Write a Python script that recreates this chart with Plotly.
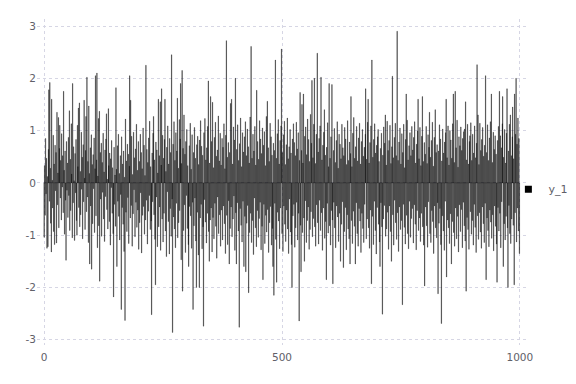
import plotly.graph_objects as go

y_1 = [
    -1.04, 0.33, -0.62, 0.85, -0.21, 0.47, -1.25, 0.12, -1.22, 0.64, 1.78, -0.35, 1.92, 0.28, -0.77, -1.32, 1.6, 0.05, -0.48, 0.91, -0.93, 0.36, -1.18, 0.72, -0.15,
    0.58, -1.15, 1.35, -0.42, 0.19, 1.25, -0.86, 0.66, 1.1, -0.29, 0.43, -0.71, 0.94, -0.08, 0.52, -0.57, 1.75, 0.24, -0.98, 0.61, -0.33, -1.48, 0.79, -0.14, 0.38,
    -0.66, 0.87, -0.24, 1.38, -0.91, 0.45, -0.53, 1.13, 0.17, -1.05, 1.9, -0.38, 0.69, 0.04, -1.1, 0.56, -0.19, 0.83, -0.72, -1.0, 1.1, 0.31, 1.43, -0.47, 1.53,
    -0.84, 0.22, -0.61, 0.97, -0.12, 0.49, -1.07, 0.73, -0.36, 1.58, 0.09, -0.89, 0.62, 1.27, -0.55, 2.02, -0.27, 0.41, -1.14, 1.47, 0.18, -1.55, 0.67, -0.44, 0.92,
    -1.65, 0.35, -0.78, 0.54, -0.11, 0.86, -0.95, 0.27, 2.05, -0.63, 0.44, 2.1, -1.24, 0.13, 1.23, -0.82, 1.37, -1.88, 0.58, -0.31, 0.76, -1.02, 0.39, -0.18, 0.95,
    -0.69, 0.21, -1.12, 0.63, -0.26, 0.84, 1.32, -0.51, 0.07, -0.88, 1.42, 0.33, -0.74, 0.57, -1.19, 0.46, -0.09, 0.81, -0.58, 0.29, -0.97, -2.18, 0.68, -0.41, 0.15,
    -0.83, 1.82, 0.26, -1.6, 0.71, -0.35, 0.93, -0.64, 0.18, -1.09, 0.52, -0.22, -2.42, 0.88, -0.47, 0.36, -0.79, 0.61, -1.31, 0.11, -2.63, 1.22, -0.56, 0.42, -0.93,
    0.74, -0.28, 0.55, -1.16, 0.32, 2.05, -0.67, 1.58, -0.43, 0.89, -1.21, 0.16, -0.59, 0.97, -0.13, 0.48, -1.03, 0.65, -0.37, 1.12, -0.85, 0.24, -0.52, 0.79, -1.27,
    0.41, -0.76, 0.93, -0.19, 0.58, -1.34, 0.27, -0.62, 1.05, -0.45, 0.72, -0.98, 0.14, -0.71, 2.25, -0.33, 0.64, -1.17, 0.39, -0.54, 0.86, -0.24, 1.18, -0.89, 0.31,
    -0.73, -2.52, 0.57, -0.36, 0.95, 1.27, -0.61, 0.44, -1.08, -1.95, 0.78, -0.27, 0.63, -1.22, 0.19, 1.6, -0.84, 0.52, -0.46, 1.55, -1.29, 0.34, 1.8, -0.69, 0.91,
    -1.13, 0.47, -0.58, 0.83, 1.6, -0.92, 0.22, -1.41, 0.68, -0.17, 1.09, -0.74, 0.36, -1.36, 0.85, -0.49, 0.58, -1.02, 2.45, -0.31, -2.86, 0.74, -0.65, 1.17, -0.88,
    0.43, -1.24, 0.96, -0.39, 0.61, 1.62, -1.05, 0.28, -0.76, 1.21, -0.53, 0.84, 1.9, -1.47, 0.37, 2.15, -2.07, 0.66, -0.91, 1.3, -0.42, 0.55, -1.33, 0.79, -0.24,
    1.02, -0.87, 0.33, -1.18, -1.6, 0.71, -0.45, 1.14, -0.63, 0.26, -1.25, 0.92, -0.37, -2.42, 0.58, -0.82, 1.06, -0.29, 0.47, -1.11, -2.0, 0.73, -0.56, 0.89, -1.38,
    0.35, -2.0, 0.82, -0.67, 1.19, -0.41, 0.7, -1.26, 0.53, -0.84, -2.74, 0.96, -0.32, 1.23, -0.75, 0.44, -1.15, 0.67, -0.58, 1.08, 1.95, -0.93, -1.5, 0.38, -0.71,
    1.65, -0.48, 0.79, -1.32, 1.54, -0.66, 0.29, -1.07, 0.87, -0.39, 1.16, -0.83, 0.51, -1.44, 0.63, -0.27, 1.28, -0.97, 0.42, -0.61, 0.95, -1.21, 0.34, -0.52, 0.85,
    -1.09, 0.68, -0.44, 1.13, -0.78, 0.27, -1.35, 0.91, 2.72, -0.62, 0.49, -1.18, 0.77, -0.34, -1.55, 0.58, -0.87, 1.52, -0.46, 1.6, -1.03, 0.36, -0.69, 1.07, -0.25,
    0.82, -1.29, 2.0, -0.57, -1.55, 0.64, -0.38, 1.11, -0.92, 0.43, -2.76, 0.75, -0.49, 1.24, -0.81, 0.31, -1.13, 0.96, -0.35, 0.59, -1.6, 0.88, -0.64, 1.17, -1.7,
    0.52, -0.77, 1.03, -0.43, 0.69, -2.1, 0.38, -0.95, 1.26, -0.58, 2.61, -1.14, 0.47, -0.72, 0.93, -1.37, 0.61, -0.29, 1.08, -0.86, 0.34, -1.22, 1.77, -0.53, 0.79,
    -1.04, 0.45, -0.68, 1.19, -0.37, 0.84, -1.28, 0.56, -0.83, 1.05, -1.85, 0.72, -0.41, 0.98, -1.16, 0.33, -0.62, 1.27, -0.94, 1.56, -0.51, 0.67, -1.33, 0.41, -0.76,
    1.14, -0.45, 0.88, -1.19, 0.53, -0.87, -1.6, 0.76, -2.15, 0.62, -0.39, 2.35, -1.08, 0.47, -1.9, 0.94, -0.56, 1.21, -0.73, 0.36, -1.26, 0.81, -0.48, 1.09, 2.56,
    -0.97, 0.58, -1.31, 0.92, -0.44, 1.18, -0.79, 0.35, -1.12, 0.73, -0.52, 1.24, -0.88, 0.46, -1.35, 0.69, -0.31, 1.02, -0.94, 0.57, -1.18, -2.0, 0.84, -0.63, 1.13,
    -0.41, 0.77, -1.23, 0.52, -0.86, 1.16, -0.37, 0.65, -1.09, 0.96, -0.58, -2.64, 0.43, 1.73, -0.81, -1.7, 0.62, 1.5, -0.95, 0.38, 1.7, -0.67, -1.5, 0.89, -0.34,
    1.07, -1.14, 0.54, -0.72, 1.22, -0.46, 0.83, -1.27, 0.41, -0.89, 1.31, -0.55, 0.76, 1.96, -1.03, 0.48, -0.68, 1.12, 2.0, -0.84, 0.37, -1.21, 0.93, -0.42, 2.48,
    -0.76, 0.59, -1.17, 0.85, -0.33, 1.09, -0.91, 2.02, -0.57, 0.44, -1.29, 0.72, -0.48, 0.97, 1.4, -1.06, 0.53, -0.74, -1.85, 0.68, -0.39, 1.15, -0.96, 0.31, 1.9,
    -0.82, 0.47, -1.19, 0.88, -0.53, 1.88, -0.71, -1.93, 0.62, -0.37, 1.04, -0.86, 0.39, -1.24, 0.81, -0.44, 1.17, -0.65, 0.28, -1.12, 0.93, -0.58, 0.74, -1.5, 0.46,
    -0.79, 1.12, -0.36, 0.67, -1.62, 0.52, -0.93, 1.06, -0.47, 0.84, -1.28, 0.35, -0.61, 1.19, -0.88, 0.43, -1.07, 0.78, -1.55, 0.56, 1.65, -0.72, 0.31, -1.16, 0.95,
    -0.54, 1.25, -0.83, 0.47, -1.55, 0.69, -0.38, 1.08, -0.97, 0.42, -1.21, 0.86, -0.49, 1.14, -0.73, 0.36, -1.33, 0.79, -0.58, 1.02, -0.87, 0.51, -1.14, 0.68, -0.41,
    0.93, 1.8, -1.07, 0.45, -0.69, 1.16, 1.6, -0.86, 0.38, -1.25, 0.77, -0.52, 1.09, -1.93, 2.35, -0.64, 0.49, -1.18, 0.83, -0.35, 1.13, -0.91, 0.57, -1.36, 0.72,
    -0.47, 0.88, 1.02, -0.79, 0.41, -1.13, -1.6, 0.66, -0.38, 0.95, -0.84, -2.51, 0.53, -0.69, 1.07, -0.43, 0.76, 1.3, -1.02, 0.34, -0.88, 1.18, -0.56, 0.62, -1.27,
    0.81, -0.44, 1.1, -0.93, 0.37, -1.5, 0.69, 2.04, -0.61, 0.48, -1.19, 0.87, -0.33, 1.14, -0.76, 0.52, -1.08, 2.9, -0.57, 0.43, -1.31, 0.78, -0.46, 1.05, -0.89,
    0.36, -0.72, 0.94, -2.33, 0.58, -0.41, 1.12, -0.85, 0.29, -1.17, 0.83, 1.7, -0.62, 1.2, -0.97, 0.44, -1.26, 0.71, -0.35, 0.96, -1.04, 0.52, -0.68, 1.08, -0.49,
    0.63, -1.15, 0.87, -0.42, 1.17, -0.79, 0.38, -1.28, 0.74, -0.53, 0.99, 1.6, -0.91, 0.46, -0.67, 1.06, -1.12, 0.33, -0.58, 0.89, 1.65, -0.84, 0.41, -1.19, 0.77,
    -1.97, 0.55, -0.46, 1.08, -0.82, 0.37, -1.23, 0.92, -0.36, 0.68, 1.35, -0.97, 0.49, -1.14, 0.81, -0.53, 1.16, -0.74, 0.32, -1.35, 0.87, -0.44, 1.4, -0.86, 0.58,
    -1.05, 0.73, -0.38, -2.12, 0.61, -0.77, 1.11, -0.49, 0.84, -1.18, -2.69, 0.42, -0.63, 1.03, -0.92, 0.57, -1.29, 0.78, -0.35, 0.96, 1.6, -1.8, 0.48, -0.71, 1.09,
    -0.86, 0.34, -1.16, 1.0, -0.59, 0.82, -1.55, 0.47, -0.74, 1.13, 1.7, -0.95, 0.39, -1.21, 1.75, -0.48, 0.67, -1.07, 1.2, -0.64, 0.3, -1.32, 0.88, -0.42, 0.71,
    -0.93, 1.07, -0.51, 0.62, -1.24, 0.85, -0.37, 0.98, -0.82, 1.03, -1.11, 1.55, -2.07, 0.44, -0.66, 1.12, -0.89, 0.36, -1.27, 0.79, 0.9, -0.55, 1.15, -0.98, 0.43,
    -0.72, 0.93, -1.19, 0.57, -0.41, 1.09, -0.85, 0.48, -1.33, 0.76, 2.26, -0.63, 1.3, -1.08, 0.35, -0.57, 1.14, -0.94, 0.62, -1.25, 0.83, -0.46, 1.06, -0.78, 0.51,
    -1.14, 0.72, -0.39, 2.05, -1.85, 0.58, -0.67, 1.11, -0.91, 0.43, -1.22, 0.86, -0.52, 1.17, -0.75, 1.7, -1.06, 0.39, -0.61, 0.97, -1.3, 0.64, -0.44, 0.9, -0.83,
    0.55, -1.17, -1.9, 0.81, -0.47, 1.08, -0.92, 1.75, -0.58, 0.9, -1.24, 0.67, -0.36, 1.13, 1.65, -1.6, 0.49, -0.78, 1.02, -1.09, 0.38, -0.64, 0.95, 1.8, -0.86,
    -2.0, 0.61, -0.43, 1.12, -0.97, 1.3, -1.16, 0.52, -0.69, 0.88, 1.45, -0.81, 0.46, -1.95, 1.7, -0.57, 0.93, 2.0, -1.13, 0.74, -0.48, 1.24, -0.92, 0.85, -1.35,
]
x_index = list(range(len(y_1)))

x_ticks = [0, 500, 1000]
y_ticks = [-3, -2, -1, 0, 1, 2, 3]

text_color = "#606068"
grid_color = "#d6d6e4"

fig = go.Figure()
fig.add_trace(go.Bar(
    x=x_index, y=y_1, name="y_1",
    # alpha just below 1 keeps plotly from widening sub-pixel bars to whole pixels
    marker=dict(color="rgba(0,0,0,0.99)", line=dict(width=0.3, color="rgba(20,20,20,0.99)")),
    showlegend=False, legendgroup="y_1",
))
# legend entry for the bar series (a small black square, as in the reference)
fig.add_trace(go.Scatter(
    x=[None], y=[None], name="y_1", mode="markers", legendgroup="y_1",
    marker=dict(symbol="square", size=7, color="#000000"),
    showlegend=True,
))

fig.update_layout(
    width=576, height=384,
    margin=dict(l=37, r=49, t=19, b=39, autoexpand=False),
    paper_bgcolor="white", plot_bgcolor="white",
    font=dict(family="DejaVu Sans", size=10.5, color=text_color),
    bargap=0.02,
    showlegend=True,
    legend=dict(x=0.962, xanchor="left", y=0.478, yanchor="middle",
                font=dict(size=11, color=text_color),
                bgcolor="rgba(0,0,0,0)", itemwidth=30),
    xaxis=dict(range=[-15, 1015], tickvals=x_ticks, ticktext=[str(v) for v in x_ticks],
               showgrid=True, gridcolor=grid_color, griddash="dot", gridwidth=1,
               zeroline=False, showline=False, ticks="", ticklabelstandoff=4),
    yaxis=dict(range=[-3.1, 3.134], tickvals=y_ticks, ticktext=[str(v) for v in y_ticks],
               showgrid=True, gridcolor=grid_color, griddash="dot", gridwidth=1,
               zeroline=False, showline=False, ticks=""),
)

post = """
function soften(){
  document.querySelectorAll('g.trace.bars path').forEach(function(p){
    p.style.shapeRendering = 'geometricPrecision';
    p.setAttribute('shape-rendering', 'geometricPrecision');
  });
}
soften();
var gd = document.querySelector('.plotly-graph-div');
if (gd && gd.on) { gd.on('plotly_afterplot', soften); }
"""
fig.write_html("out.html", post_script=post)
